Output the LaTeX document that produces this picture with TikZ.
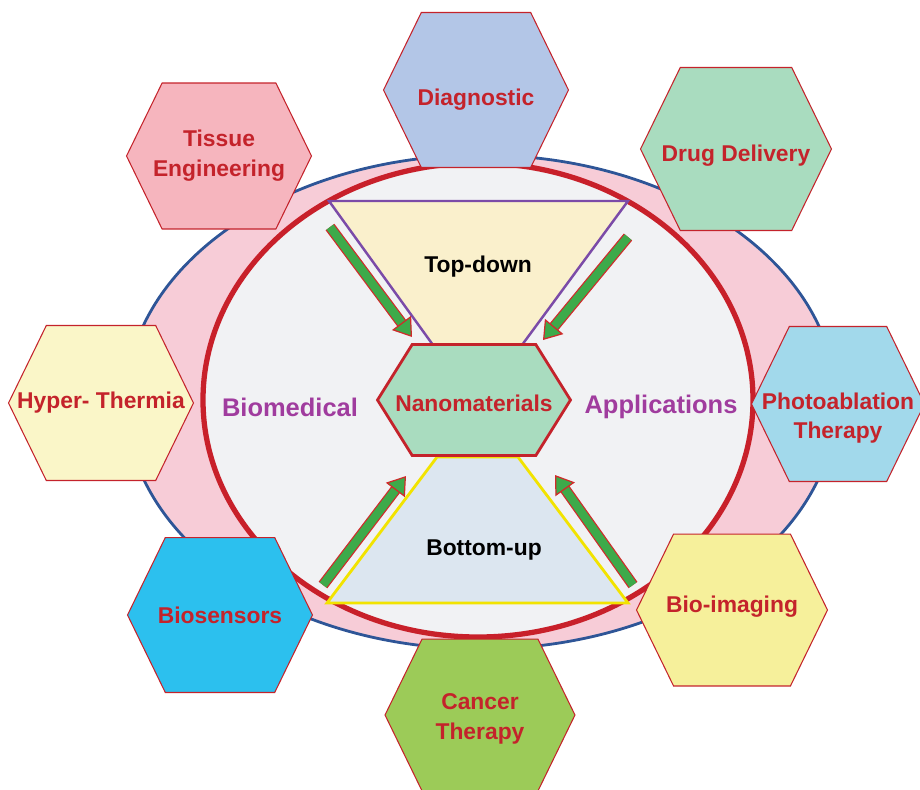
\documentclass[tikz,border=0pt]{standalone}
\usepackage{fontspec}
\setmainfont{Liberation Sans}
\usetikzlibrary{shapes.symbols,arrows.meta}

\definecolor{ringblue}{HTML}{2E5597}
\definecolor{ringpink}{HTML}{F7CCD7}
\definecolor{ringred}{HTML}{C8202A}
\definecolor{coreface}{HTML}{F1F2F4}
\definecolor{funnelpurple}{HTML}{7B4BA8}
\definecolor{funnelyellow}{HTML}{F2E300}
\definecolor{topfill}{HTML}{FAF0CC}
\definecolor{bottomfill}{HTML}{DCE6F0}
\definecolor{hexred}{HTML}{C4232B}
\definecolor{sidepurple}{HTML}{A03C9E}
\definecolor{arrowred}{HTML}{D02A2A}
\definecolor{arrowgreen}{HTML}{3DAA4A}
\definecolor{mintfill}{HTML}{A9DCBF}
\definecolor{diagfill}{HTML}{B3C6E7}
\definecolor{tissuefill}{HTML}{F6B5BE}
\definecolor{hyperfill}{HTML}{FAF6C8}
\definecolor{photofill}{HTML}{A2D9EB}
\definecolor{sensorfill}{HTML}{2CC0EE}
\definecolor{cancerfill}{HTML}{9CCB58}
\definecolor{imagingfill}{HTML}{F6F09B}

\begin{document}
\begin{tikzpicture}[x=0.02cm,y=-0.02cm]
    \tikzset{hexbox/.style={
      signal,
      signal to=west and east,
      signal pointer angle=128,
      draw=hexred,
      line width=0.6pt,
      inner sep=0pt,
      minimum width=3.7cm,
      minimum height=3.1cm
    }};
    \tikzset{hextext/.style={
      align=center,
      text=hexred,
      font=\fontsize{13}{17}\selectfont\bfseries
    }};
    \tikzset{sidelabel/.style={text=sidepurple, font=\fontsize{14.5}{17}\selectfont\bfseries}};
    \tikzset{stagelabel/.style={font=\fontsize{13}{17}\selectfont\bfseries}};
    \tikzset{garrow/.style={
      draw=arrowred,
      line width=0.7pt,
      double=arrowgreen,
      double distance=4.8pt,
      -{Triangle[length=10pt, width=13.5pt, fill=arrowgreen, line width=0.7pt]}
    }};

    \path[use as bounding box] (0,0) rectangle (920,789);

    % rings
    \draw[draw=ringblue, fill=ringpink, line width=1.6pt] (481,402) ellipse [x radius=355, y radius=247];
    \draw[draw=ringred, fill=coreface, line width=3pt] (478,400) ellipse [x radius=275, y radius=237];

    % funnels
    \draw[draw=funnelpurple, fill=topfill, line width=1.4pt]
      (329,201) -- (628,201) -- (522,345) -- (433,345) -- cycle;
    \draw[draw=funnelyellow, fill=bottomfill, line width=1.6pt]
      (437,457) -- (518,457) -- (628,603) -- (327,603) -- cycle;

    \node [hexbox, fill=mintfill, signal pointer angle=116, line width=1.6pt,
      minimum width=3.86cm, minimum height=2.22cm,
      label={[hextext, yshift=-2pt]center:Nanomaterials}] (nano) at (474,400) {};

    \node [stagelabel] (topdown) at (478,267) {Top-down};
    \node [stagelabel] (bottomup) at (484,550) {Bottom-up};
    \node [sidelabel] (biomed) at (290,407) {Biomedical};
    \node [sidelabel] (appl) at (661,407) {Applications};

    % arrows
    \coordinate (tl0) at (330,227); \coordinate (tl1) at (412,337);
    \coordinate (tr0) at (628,237); \coordinate (tr1) at (543,340);
    \coordinate (bl0) at (323,585); \coordinate (bl1) at (406,476);
    \coordinate (br0) at (633,585); \coordinate (br1) at (555,475);
    \draw[garrow] (tl0) -- (tl1);
    \draw[garrow] (tr0) -- (tr1);
    \draw[garrow] (bl0) -- (bl1);
    \draw[garrow] (br0) -- (br1);

    % applications
    \node [hexbox, fill=diagfill, label={[hextext, yshift=-5.5pt]center:Diagnostic}] (diag) at (476,90) {};
    \node [hexbox, fill=tissuefill, minimum height=2.92cm,
      label={[hextext]center:Tissue\\Engineering}] (tissue) at (219,156) {};
    \node [hexbox, fill=mintfill, minimum width=3.82cm, minimum height=3.26cm,
      label={[hextext, yshift=-3.5pt]center:Drug Delivery}] (drug) at (736,149) {};
    \node [hexbox, fill=hyperfill, label={[hextext]center:Hyper- Thermia}] (hyper) at (101,403) {};
    \node [hexbox, fill=photofill, minimum width=3.46cm,
      label={[hextext, yshift=-8pt]center:Photoablation\\Therapy}] (photo) at (838,404) {};
    \node [hexbox, fill=sensorfill, label={[hextext]center:Biosensors}] (biosens) at (220,615) {};
    \node [hexbox, fill=cancerfill, minimum width=3.8cm, minimum height=3.04cm,
      label={[hextext, yshift=-2pt]center:Cancer\\Therapy}] (cancer) at (480,715) {};
    \node [hexbox, fill=imagingfill, minimum width=3.82cm, minimum height=3.04cm,
      label={[hextext, yshift=2pt]center:Bio-imaging}] (bioimg) at (732,610) {};
\end{tikzpicture}
\end{document}
